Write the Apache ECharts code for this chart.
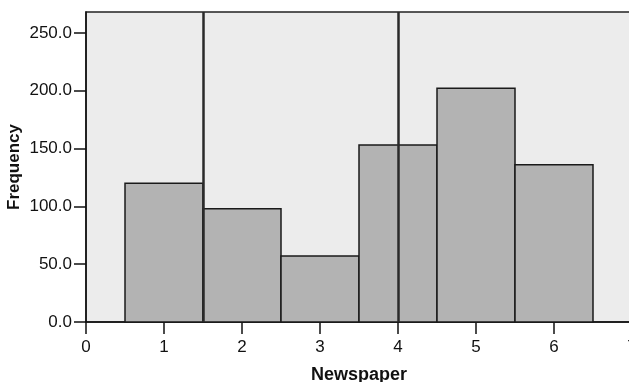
<!DOCTYPE html>
<html>
<head>
<meta charset="utf-8">
<script src="https://cdn.jsdelivr.net/npm/echarts@6/dist/echarts.min.js"></script>
<style>
html,body{margin:0;padding:0;background:#fff;}
#chart{width:629px;height:382px;}
</style>
</head>
<body>
<div id="chart"></div>
<script>
var categories = [1, 2, 3, 4, 5, 6];
var frequencies = [120, 98, 57, 153, 202, 136];
var yTicks = [0, 50, 100, 150, 200, 250];
var xTicks = [0, 1, 2, 3, 4, 5, 6, 7];
var referenceLines = [1.5, 4];

var chart = echarts.init(document.getElementById('chart'));
var data = categories.map(function (c, i) { return [c, frequencies[i]]; });
var font = 'Liberation Sans, Arial, sans-serif';

chart.setOption({
  animation: false,
  grid: {
    left: 86, top: 12, right: -3, bottom: 60,
    containLabel: false, outerBoundsMode: 'none',
    show: true, backgroundColor: '#ececec', borderColor: '#222', borderWidth: 1.5
  },
  xAxis: {
    type: 'value', min: 0, max: 7, interval: 1,
    name: 'Newspaper', nameLocation: 'middle', nameGap: 44,
    nameTextStyle: { fontFamily: font, fontWeight: 'bold', fontSize: 18, color: '#111' },
    axisLine: { show: true, lineStyle: { color: '#111', width: 1.5 } },
    axisTick: { show: true, length: 12, customValues: xTicks, lineStyle: { color: '#111', width: 1.5 } },
    axisLabel: { fontFamily: font, fontSize: 17, color: '#111', margin: 17, customValues: xTicks,
      formatter: function (v) { return String(v); } },
    splitLine: { show: false }
  },
  yAxis: {
    type: 'value', min: 0, max: 268, interval: 50,
    name: 'Frequency', nameLocation: 'middle', nameGap: 63, nameRotate: 90,
    nameMoveOverlap: false,
    nameTextStyle: { fontFamily: font, fontWeight: 'bold', fontSize: 17, color: '#111' },
    axisLine: { show: true, lineStyle: { color: '#111', width: 1.5 } },
    axisTick: { show: true, length: 12, customValues: yTicks, lineStyle: { color: '#111', width: 1.5 } },
    axisLabel: { fontFamily: font, fontSize: 17, color: '#111', margin: 14, customValues: yTicks,
      formatter: function (v) { return v.toFixed(1); } },
    splitLine: { show: false }
  },
  series: [{
    type: 'custom',
    data: data,
    renderItem: function (params, api) {
      var x = api.value(0), y = api.value(1);
      var p1 = api.coord([x - 0.5, y]);
      var p2 = api.coord([x + 0.5, 0]);
      return {
        type: 'rect',
        shape: { x: p1[0], y: p1[1], width: p2[0] - p1[0], height: p2[1] - p1[1] },
        style: { fill: '#b3b3b3', stroke: '#1a1a1a', lineWidth: 1.5 }
      };
    },
    encode: { x: 0, y: 1 },
    markLine: {
      silent: true, symbol: 'none', label: { show: false },
      lineStyle: { color: '#2a2a2a', width: 2.5, type: 'solid' },
      data: referenceLines.map(function (v) { return { xAxis: v }; })
    }
  }]
});
</script>
</body>
</html>
